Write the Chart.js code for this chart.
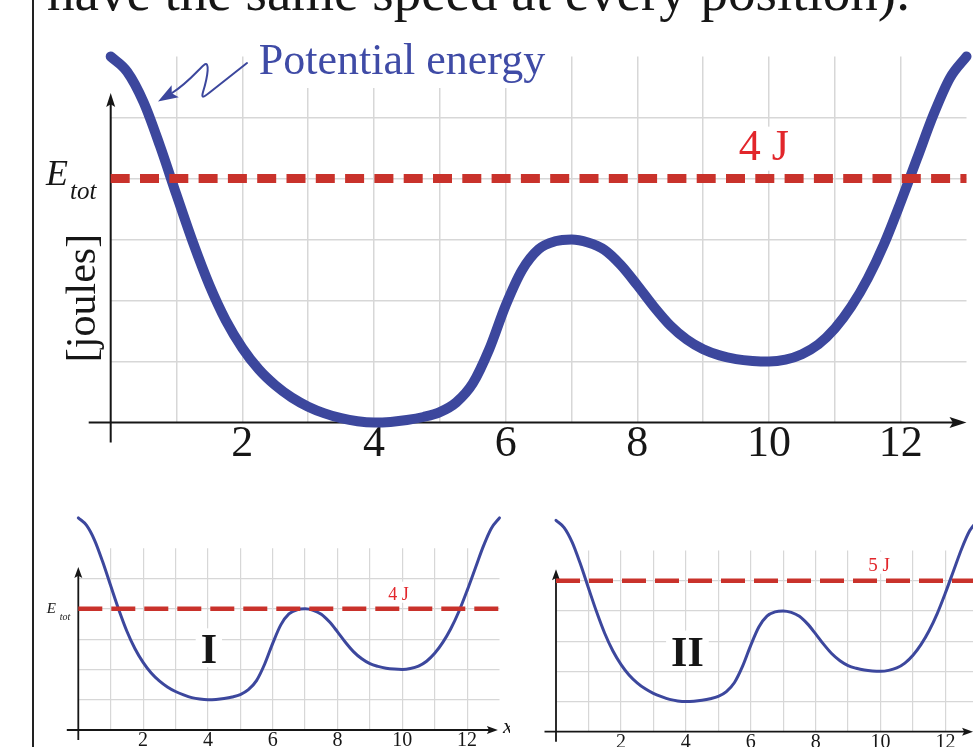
<!DOCTYPE html>
<html>
<head>
<meta charset="utf-8">
<script src="https://cdn.jsdelivr.net/npm/chart.js@4.4.1/dist/chart.umd.min.js"></script>
<style>
  html, body { margin: 0; padding: 0; background: #fff; }
  body { width: 973px; height: 747px; position: relative; overflow: hidden; }
  canvas { position: absolute; }
  #main { left: 0; top: 0; }
  #p1 { left: 40px; top: 500px; }
  #p2 { left: 520px; top: 500px; }
  #edge { position: absolute; left: 32px; top: 0; width: 1.5px; height: 747px; background: #222; }
</style>
</head>
<body>
<div id="edge"></div>
<canvas id="main" width="973" height="500"></canvas>
<canvas id="p1" width="470" height="270"></canvas>
<canvas id="p2" width="480" height="270"></canvas>
<script>
// position along the track (quarter steps) and potential energy (joules)
const xPos = [0, 0.25, 0.5, 0.75, 1, 1.25, 1.5, 1.75, 2, 2.25, 2.5, 2.75, 3, 3.25, 3.5, 3.75,
              4, 4.25, 4.5, 4.75, 5, 5.25, 5.5, 5.75, 6, 6.25, 6.5, 6.75, 7, 7.25, 7.5, 7.75,
              8, 8.25, 8.5, 8.75, 9, 9.25, 9.5, 9.75, 10, 10.25, 10.5, 10.75, 11, 11.25, 11.5, 11.75,
              12, 12.25, 12.5, 12.75, 13];
const uMain = [6.0, 5.75, 5.25, 4.53, 3.73, 2.95, 2.25, 1.67, 1.22, 0.87, 0.61, 0.41, 0.26, 0.15, 0.07, 0.02,
               0.0, 0.01, 0.04, 0.09, 0.17, 0.33, 0.64, 1.2, 1.92, 2.5, 2.84, 2.97, 3.0, 2.95, 2.83, 2.58,
               2.25, 1.9, 1.59, 1.36, 1.2, 1.1, 1.04, 1.01, 1.0, 1.03, 1.12, 1.28, 1.54, 1.9, 2.36, 2.93,
               3.61, 4.33, 5.05, 5.65, 6.0];
// the two small plots (I and II) share this curve
const uSmall = [7.0, 6.76, 6.27, 5.56, 4.76, 3.97, 3.26, 2.68, 2.23, 1.88, 1.62, 1.42, 1.27, 1.16, 1.07, 1.02,
                1.0, 1.01, 1.04, 1.09, 1.17, 1.33, 1.63, 2.17, 2.86, 3.47, 3.83, 3.97, 4.0, 3.95, 3.82, 3.57,
                3.24, 2.89, 2.58, 2.35, 2.19, 2.1, 2.04, 2.01, 2.0, 2.03, 2.11, 2.27, 2.53, 2.89, 3.35, 3.92,
                4.6, 5.33, 6.06, 6.66, 7.0];
const xTicks = [2, 4, 6, 8, 10, 12];
const eTotMain = 4;
const eTotI = 4;
const eTotII = 5;

const BLUE = '#3c479d';
const RED = '#c9322b';
const LABEL_RED = '#e2262b';
const GRID = '#d7d7d7';
const INK = '#161616';
const SERIF = '"Liberation Serif", "Times New Roman", serif';

function arrow(ctx, tx, ty, dx, dy, len, half) {
  const n = Math.hypot(dx, dy); dx /= n; dy /= n;
  ctx.beginPath();
  ctx.moveTo(tx, ty);
  ctx.lineTo(tx - dx * len - dy * half, ty - dy * len + dx * half);
  ctx.lineTo(tx - dx * len * 0.8, ty - dy * len * 0.8);
  ctx.lineTo(tx - dx * len + dy * half, ty - dy * len - dx * half);
  ctx.closePath();
  ctx.fill();
}

function plate(ctx, x, y, w, h) {
  ctx.fillStyle = '#fff';
  ctx.fillRect(x, y, w, h);
}

const mainDecor = {
  id: 'mainDecor',
  beforeDatasetsDraw(chart) {
    const { ctx, scales: { x, y } } = chart;
    ctx.save();
    // keep the grid from running through the labels
    plate(ctx, x.getPixelForValue(2.1), 26, x.getPixelForValue(6.8) - x.getPixelForValue(2.1), 62);
    plate(ctx, x.getPixelForValue(9.45), y.getPixelForValue(4.85), 62, 44);

    const x0 = x.getPixelForValue(0), y0 = y.getPixelForValue(0);
    ctx.strokeStyle = INK; ctx.fillStyle = INK; ctx.lineWidth = 2;
    ctx.beginPath();
    ctx.moveTo(x0 - 22, y0); ctx.lineTo(x.getPixelForValue(13) - 12, y0);
    ctx.moveTo(x0, y0 + 20); ctx.lineTo(x0, y.getPixelForValue(5.4) + 10);
    ctx.stroke();
    arrow(ctx, x.getPixelForValue(13), y0, 1, 0, 17, 5.5);
    arrow(ctx, x0, y.getPixelForValue(5.4), 0, -1, 14, 4.5);
    ctx.restore();
  },
  afterDatasetsDraw(chart) {
    const { ctx, scales: { x, y } } = chart;
    ctx.save();
    ctx.textBaseline = 'alphabetic';
    ctx.textAlign = 'left';

    ctx.fillStyle = INK;
    ctx.font = `55px ${SERIF}`;
    ctx.fillText('have the same speed at every position).', 47, 10);

    ctx.font = `italic 36px ${SERIF}`;
    ctx.fillText('E', 46, 185);
    ctx.font = `italic 25px ${SERIF}`;
    ctx.fillText('tot', 70, 199);

    ctx.save();
    ctx.translate(95, 298);
    ctx.rotate(-Math.PI / 2);
    ctx.textAlign = 'center';
    ctx.font = `42px ${SERIF}`;
    ctx.fillText('[joules]', 0, 0);
    ctx.restore();

    ctx.fillStyle = '#3f4ba6';
    ctx.font = `44px ${SERIF}`;
    ctx.fillText('Potential energy', x.getPixelForValue(2.25), y.getPixelForValue(5.71));

    // zig-zag pointer from the curve up to the label
    ctx.strokeStyle = BLUE; ctx.fillStyle = BLUE; ctx.lineWidth = 2;
    ctx.lineJoin = 'round'; ctx.lineCap = 'round';
    ctx.beginPath();
    ctx.moveTo(172, 93);
    ctx.bezierCurveTo(188, 83, 199, 69, 204, 65);
    ctx.bezierCurveTo(210, 60, 208, 76, 203, 92);
    ctx.bezierCurveTo(201, 99, 204, 97, 209, 93);
    ctx.lineTo(247, 63);
    ctx.stroke();
    arrow(ctx, 158, 101.5, -1.6, 0.95, 20, 7);

    ctx.fillStyle = LABEL_RED;
    ctx.font = `44px ${SERIF}`;
    ctx.fillText('4 J', x.getPixelForValue(9.54), y.getPixelForValue(4.3));
    ctx.restore();
  }
};

function panelDecor(o) {
  return {
    id: 'panelDecor',
    beforeDatasetsDraw(chart) {
      const { ctx, scales: { x, y } } = chart;
      ctx.save();
      ctx.font = `bold 42px ${SERIF}`;
      const nw = ctx.measureText(o.numeral).width + 10;
      plate(ctx, x.getPixelForValue(o.numX) - nw / 2, y.getPixelForValue(o.numY) - 35, nw, 39);
      ctx.font = `${o.labFont}px ${SERIF}`;
      const lw = ctx.measureText(o.label).width + 6;
      plate(ctx, x.getPixelForValue(o.labX) - 3, y.getPixelForValue(o.labY) - o.labFont, lw, o.labFont + 3);

      const x0 = x.getPixelForValue(0), y0 = y.getPixelForValue(0);
      ctx.strokeStyle = INK; ctx.fillStyle = INK; ctx.lineWidth = 1.8;
      ctx.beginPath();
      ctx.moveTo(x0 - 11.5, y0); ctx.lineTo(x.getPixelForValue(o.axisEnd) - 8, y0);
      ctx.moveTo(x0, y0 + 10); ctx.lineTo(x0, y.getPixelForValue(5.38) + 8);
      ctx.stroke();
      arrow(ctx, x.getPixelForValue(o.axisEnd), y0, 1, 0, 11, 4);
      arrow(ctx, x0, y.getPixelForValue(5.38), 0, -1, 11, 4);
      ctx.restore();
    },
    afterDatasetsDraw(chart) {
      const { ctx, scales: { x, y } } = chart;
      ctx.save();
      ctx.textBaseline = 'alphabetic';
      ctx.fillStyle = INK;
      ctx.textAlign = 'center';
      ctx.font = `bold 42px ${SERIF}`;
      ctx.fillText(o.numeral, x.getPixelForValue(o.numX), y.getPixelForValue(o.numY));

      ctx.textAlign = 'left';
      ctx.fillStyle = LABEL_RED;
      ctx.font = `${o.labFont}px ${SERIF}`;
      ctx.fillText(o.label, x.getPixelForValue(o.labX), y.getPixelForValue(o.labY));

      ctx.fillStyle = INK;
      if (o.eLabel) {
        const x0 = x.getPixelForValue(0);
        ctx.font = `italic 15px ${SERIF}`;
        ctx.fillText('E', x0 - 31.5, y.getPixelForValue(3.85));
        ctx.font = `italic 10px ${SERIF}`;
        ctx.fillText('tot', x0 - 18.5, y.getPixelForValue(3.62));
      }
      if (o.xLabel) {
        ctx.font = `italic 22px ${SERIF}`;
        ctx.fillText('x', x.getPixelForValue(o.axisEnd) + 5, y.getPixelForValue(0) + 3);
      }
      ctx.restore();
    }
  };
}

function hideEnds(lo, hi) {
  return c => (c.tick.value === lo || c.tick.value === hi) ? 'rgba(0,0,0,0)' : GRID;
}

function makeChart(id, c) {
  return new Chart(document.getElementById(id), {
    type: 'line',
    data: {
      datasets: [
        {
          data: xPos.map((v, i) => ({ x: v, y: c.curve[i] })),
          borderColor: BLUE,
          borderWidth: c.curveW,
          borderCapStyle: 'round',
          borderJoinStyle: 'round',
          cubicInterpolationMode: 'monotone',
          pointRadius: 0,
          clip: false,
          order: 1
        },
        {
          data: [{ x: 0, y: c.eTot }, { x: 13, y: c.eTot }],
          borderColor: RED,
          borderWidth: c.dashW,
          borderDash: c.dash,
          borderCapStyle: 'butt',
          pointRadius: 0,
          clip: false,
          order: 0
        }
      ]
    },
    options: {
      responsive: false,
      animation: false,
      devicePixelRatio: 1,
      events: [],
      layout: { padding: c.pad },
      plugins: { legend: { display: false }, tooltip: { enabled: false } },
      scales: {
        x: {
          type: 'linear', min: 0, max: 13,
          border: { display: false },
          grid: { color: hideEnds(0, 13), lineWidth: c.gridW, drawTicks: false },
          ticks: {
            stepSize: 1, autoSkip: false, maxRotation: 0,
            color: INK, padding: c.tickPad,
            font: { family: SERIF, size: c.tickSize, lineHeight: 1 },
            callback: v => xTicks.includes(v) ? String(v) : ''
          },
          afterFit: s => { s.height = c.axisH; }
        },
        y: {
          min: 0, max: 6,
          border: { display: false },
          grid: { color: hideEnds(0, 6), lineWidth: c.gridW, drawTicks: false },
          ticks: { display: false, stepSize: 1 },
          afterFit: s => { s.width = 0; }
        }
      }
    },
    plugins: [c.decor]
  });
}

makeChart('main', {
  curve: uMain, eTot: eTotMain,
  curveW: 10, dashW: 9, dash: [19, 10.3], gridW: 1.5,
  pad: { left: 110.7, right: 6.5, top: 56.5, bottom: 27.5 },
  axisH: 50, tickSize: 44, tickPad: 0,
  decor: mainDecor
});

makeChart('p1', {
  curve: uSmall, eTot: eTotI,
  curveW: 3, dashW: 4.5, dash: [24, 9], gridW: 1.2,
  pad: { left: 38.3, right: 10.5, top: 48.2, bottom: 12 },
  axisH: 28, tickSize: 20, tickPad: 1,
  decor: panelDecor({ numeral: 'I', numX: 4.03, numY: 2.2, label: '4 J', labX: 9.57, labY: 4.3, labFont: 18, eLabel: true, xLabel: true, axisEnd: 12.95 })
});

makeChart('p2', {
  curve: uSmall, eTot: eTotII,
  curveW: 3, dashW: 4.5, dash: [24, 9], gridW: 1.2,
  pad: { left: 36, right: 22.1, top: 50.5, bottom: 10.3 },
  axisH: 28, tickSize: 20, tickPad: 1,
  decor: panelDecor({ numeral: 'II', numX: 4.05, numY: 2.19, label: '5 J', labX: 9.62, labY: 5.33, labFont: 19, eLabel: false, xLabel: false, axisEnd: 12.85 })
});
</script>
</body>
</html>
